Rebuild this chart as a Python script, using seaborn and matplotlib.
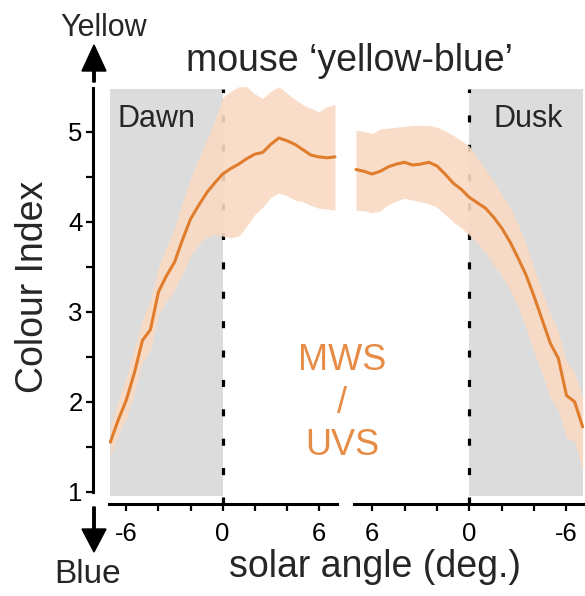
import numpy as np
import pandas as pd
import matplotlib
matplotlib.use("Agg")
import matplotlib.pyplot as plt
import seaborn as sns

# ---------------- data ----------------
dawn_angle = [-7.0, -6.5, -6.0, -5.5, -5.0, -4.5, -4.0, -3.5, -3.0, -2.5, -2.0, -1.5, -1.0, -0.5,
              0.0, 0.5, 1.0, 1.5, 2.0, 2.5, 3.0, 3.5, 4.0, 4.5, 5.0, 5.5, 6.0, 6.5, 7.0]
dawn_mean = [1.55, 1.80, 2.02, 2.32, 2.68, 2.80, 3.22, 3.40, 3.55, 3.80, 4.03, 4.18, 4.32, 4.43,
             4.53, 4.59, 4.64, 4.70, 4.75, 4.77, 4.86, 4.93, 4.90, 4.86, 4.80, 4.74, 4.72, 4.71, 4.72]
dawn_upper = [1.72, 2.02, 2.27, 2.58, 2.92, 3.12, 3.50, 3.72, 3.93, 4.22, 4.48, 4.70, 4.90, 5.12,
              5.38, 5.45, 5.50, 5.50, 5.42, 5.37, 5.45, 5.50, 5.43, 5.36, 5.30, 5.26, 5.22, 5.28, 5.30]
dawn_lower = [1.40, 1.63, 1.82, 2.10, 2.44, 2.57, 2.97, 3.12, 3.24, 3.42, 3.62, 3.74, 3.83, 3.86,
              3.84, 3.82, 3.84, 3.95, 4.08, 4.16, 4.27, 4.32, 4.29, 4.24, 4.22, 4.18, 4.15, 4.14, 4.13]

dusk_angle = [7.0, 6.5, 6.0, 5.5, 5.0, 4.5, 4.0, 3.5, 3.0, 2.5, 2.0, 1.5, 1.0, 0.5,
              0.0, -0.5, -1.0, -1.5, -2.0, -2.5, -3.0, -3.5, -4.0, -4.5, -5.0, -5.5, -6.0, -6.5, -7.0]
dusk_mean = [4.58, 4.56, 4.53, 4.56, 4.61, 4.64, 4.66, 4.63, 4.64, 4.66, 4.62, 4.53, 4.43, 4.36,
             4.27, 4.21, 4.15, 4.05, 3.93, 3.78, 3.60, 3.41, 3.17, 2.91, 2.65, 2.48, 2.07, 2.00, 1.72]
dusk_upper = [5.02, 5.00, 4.98, 5.03, 5.04, 5.05, 5.06, 5.07, 5.07, 5.07, 5.05, 5.01, 4.96, 4.90,
              4.84, 4.70, 4.58, 4.45, 4.30, 4.17, 3.98, 3.75, 3.48, 3.22, 2.98, 2.78, 2.45, 2.32, 2.05]
dusk_lower = [4.13, 4.12, 4.10, 4.12, 4.19, 4.23, 4.26, 4.24, 4.22, 4.20, 4.16, 4.08, 4.00, 3.93,
              3.85, 3.77, 3.66, 3.52, 3.40, 3.25, 3.06, 2.82, 2.55, 2.30, 2.05, 1.90, 1.60, 1.55, 1.25]

x_tick_major = [-6, 0, 6]
x_tick_minor = [-4, -2, 2, 4]
x_tick_labels = ["-6", "0", "6"]
y_ticks = [1, 2, 3, 4, 5]
y_ticks_minor = [1.5, 2.5, 3.5, 4.5]

# ---------------- style ----------------
sns.set_style("ticks")
plt.rcParams["font.family"] = ["Liberation Sans", "DejaVu Sans"]

LINE_C = "#E07D2D"
BAND_C = "#F9DAC3"
GRAY_C = "#DCDCDC"
TEXT_ORANGE = "#E68C46"

fig = plt.figure(figsize=(5.85, 5.96), dpi=100)
W, H = 585, 596
YLIM = (0.95, 5.55)
GRAY_TOP = 5.47

ax1 = fig.add_axes([108.7 / W, (H - 496.2) / H, 227.9 / W, 414 / H])
ax2 = fig.add_axes([354.3 / W, (H - 496.2) / H, 230.0 / W, 414 / H])

dawn = pd.DataFrame({"angle": dawn_angle, "ci": dawn_mean})
dusk = pd.DataFrame({"angle": dusk_angle, "ci": dusk_mean})

for ax, df, lo, hi, gray_span, xl in [
    (ax1, dawn, dawn_lower, dawn_upper, (-7.0, 0.0), (-7.1, 7.1)),
    (ax2, dusk, dusk_lower, dusk_upper, (0.0, -7.05), (7.1, -7.1)),
]:
    ax.set_facecolor("none")
    ax.fill_between(list(gray_span), YLIM[0], GRAY_TOP, color=GRAY_C, lw=0, zorder=0)
    ax.axvline(0, ymin=-0.02, ymax=(GRAY_TOP - YLIM[0]) / (YLIM[1] - YLIM[0]),
               color="black", lw=2.3, dashes=(2.2, 7.0), clip_on=False, zorder=1)
    ax.fill_between(df["angle"], lo, hi, color=BAND_C, alpha=0.9, lw=0, zorder=2)
    sns.lineplot(data=df, x="angle", y="ci", ax=ax, color=LINE_C, lw=2.2, zorder=3,
                 sort=False, estimator=None)
    ax.set_xlim(*xl)
    ax.set_ylim(*YLIM)
    ax.set_xlabel("")
    ax.set_ylabel("")
    ax.set_xticks(x_tick_major)
    ax.set_xticklabels(x_tick_labels)
    ax.set_xticks(x_tick_minor, minor=True)
    ax.tick_params(axis="x", which="both", direction="out", length=5, width=1.6,
                   pad=8, labelsize=18.5, colors="black")
    for s in ["top", "right"]:
        ax.spines[s].set_visible(False)
    ax.spines["bottom"].set_position(("outward", 5.6))
    ax.spines["bottom"].set_linewidth(2.2)
    ax.spines["bottom"].set_color("black")

# y axis on dawn panel
ax1.set_yticks(y_ticks)
ax1.set_yticks(y_ticks_minor, minor=True)
ax1.tick_params(axis="y", which="both", direction="out", length=5, width=1.6,
                pad=2.5, labelsize=18.5, colors="black")
ax1.spines["left"].set_position(("outward", 11.3))
ax1.spines["left"].set_bounds(1, 5.48)
ax1.spines["left"].set_linewidth(2.2)
ax1.spines["left"].set_color("black")

ax2.spines["left"].set_visible(False)
ax2.tick_params(axis="y", which="both", left=False, labelleft=False)

# ---------------- text ----------------
def ftxt(x, y_img, s, **kw):
    fig.text(x / W, (H - y_img) / H, s, **kw)

ftxt(349, 71, "mouse \u2018yellow-blue\u2019", ha="center", va="baseline", fontsize=27)
ftxt(104, 36, "Yellow", ha="center", va="baseline", fontsize=22)
ftxt(88, 583, "Blue", ha="center", va="baseline", fontsize=24)
ftxt(375, 577, "solar angle (deg.)", ha="center", va="baseline", fontsize=27)
ftxt(33, 287, "Colour Index", ha="center", va="center", rotation=90, fontsize=27)
ftxt(118, 127, "Dawn", ha="left", va="baseline", fontsize=22)
ftxt(493, 127, "Dusk", ha="left", va="baseline", fontsize=22)
ftxt(342, 370, "MWS", ha="center", va="baseline", fontsize=26, color=TEXT_ORANGE)
ftxt(342, 413, "/", ha="center", va="baseline", fontsize=26, color=TEXT_ORANGE)
ftxt(342, 455, "UVS", ha="center", va="baseline", fontsize=26, color=TEXT_ORANGE)

# arrows
fig.patches.append(matplotlib.patches.FancyArrow(
    94 / W, (H - 82) / H, 0, 37 / H, width=2.5 / H, head_width=24 / W, head_length=26 / H,
    length_includes_head=True, color="black", transform=fig.transFigure))
fig.patches.append(matplotlib.patches.FancyArrow(
    94 / W, (H - 507) / H, 0, -45 / H, width=2.5 / H, head_width=24 / W, head_length=23 / H,
    length_includes_head=True, color="black", transform=fig.transFigure))

fig.savefig("out.png", dpi=100)
